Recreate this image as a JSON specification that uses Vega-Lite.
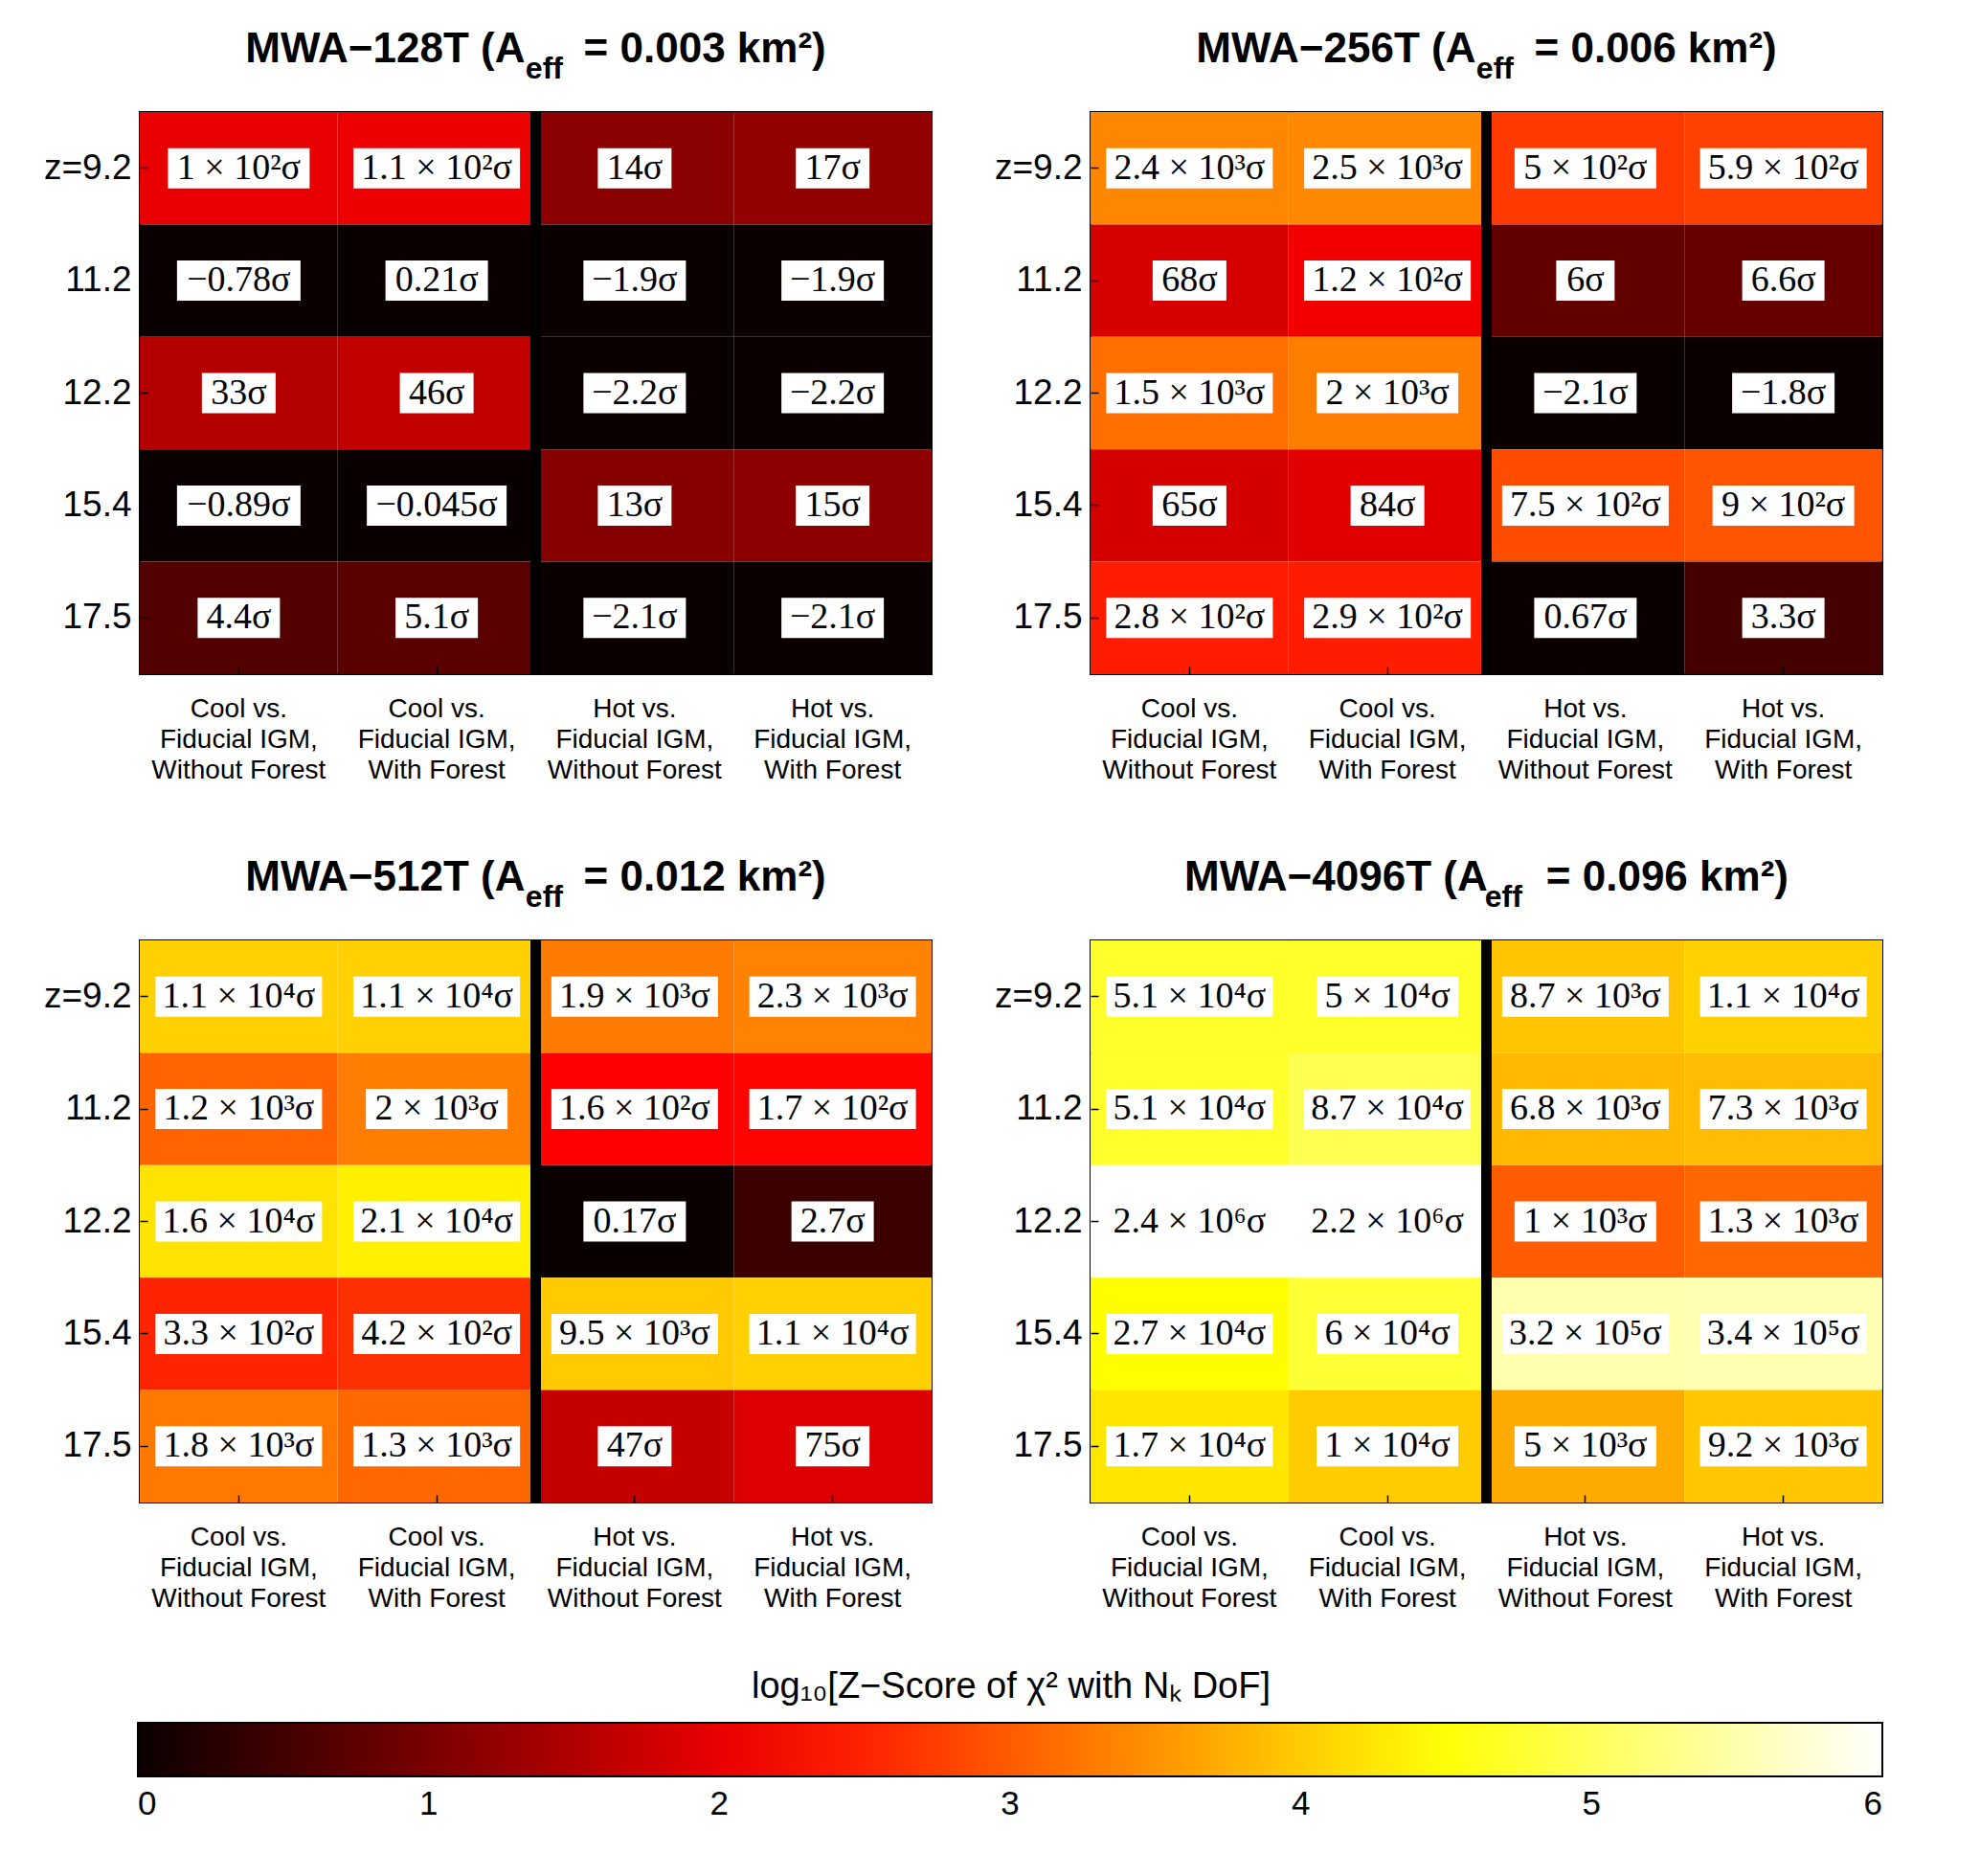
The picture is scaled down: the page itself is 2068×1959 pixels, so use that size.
{
  "$schema": "https://vega.github.io/schema/vega-lite/v6.json",
  "background": "white",
  "padding": {"left": 44, "top": 28, "right": 20, "bottom": 20},
  "datasets": {
    "cells": [
      {"p": "128T", "z": 9.2, "comp": "Cool vs.|Fiducial IGM,|Without Forest", "label": "1 × 10²σ", "logz": 2.0},
      {"p": "128T", "z": 9.2, "comp": "Cool vs.|Fiducial IGM,|With Forest", "label": "1.1 × 10²σ", "logz": 2.04},
      {"p": "128T", "z": 9.2, "comp": "Hot vs.|Fiducial IGM,|Without Forest", "label": "14σ", "logz": 1.15},
      {"p": "128T", "z": 9.2, "comp": "Hot vs.|Fiducial IGM,|With Forest", "label": "17σ", "logz": 1.23},
      {"p": "128T", "z": 11.2, "comp": "Cool vs.|Fiducial IGM,|Without Forest", "label": "−0.78σ", "logz": 0},
      {"p": "128T", "z": 11.2, "comp": "Cool vs.|Fiducial IGM,|With Forest", "label": "0.21σ", "logz": 0},
      {"p": "128T", "z": 11.2, "comp": "Hot vs.|Fiducial IGM,|Without Forest", "label": "−1.9σ", "logz": 0},
      {"p": "128T", "z": 11.2, "comp": "Hot vs.|Fiducial IGM,|With Forest", "label": "−1.9σ", "logz": 0},
      {"p": "128T", "z": 12.2, "comp": "Cool vs.|Fiducial IGM,|Without Forest", "label": "33σ", "logz": 1.52},
      {"p": "128T", "z": 12.2, "comp": "Cool vs.|Fiducial IGM,|With Forest", "label": "46σ", "logz": 1.66},
      {"p": "128T", "z": 12.2, "comp": "Hot vs.|Fiducial IGM,|Without Forest", "label": "−2.2σ", "logz": 0},
      {"p": "128T", "z": 12.2, "comp": "Hot vs.|Fiducial IGM,|With Forest", "label": "−2.2σ", "logz": 0},
      {"p": "128T", "z": 15.4, "comp": "Cool vs.|Fiducial IGM,|Without Forest", "label": "−0.89σ", "logz": 0},
      {"p": "128T", "z": 15.4, "comp": "Cool vs.|Fiducial IGM,|With Forest", "label": "−0.045σ", "logz": 0},
      {"p": "128T", "z": 15.4, "comp": "Hot vs.|Fiducial IGM,|Without Forest", "label": "13σ", "logz": 1.11},
      {"p": "128T", "z": 15.4, "comp": "Hot vs.|Fiducial IGM,|With Forest", "label": "15σ", "logz": 1.18},
      {"p": "128T", "z": 17.5, "comp": "Cool vs.|Fiducial IGM,|Without Forest", "label": "4.4σ", "logz": 0.64},
      {"p": "128T", "z": 17.5, "comp": "Cool vs.|Fiducial IGM,|With Forest", "label": "5.1σ", "logz": 0.71},
      {"p": "128T", "z": 17.5, "comp": "Hot vs.|Fiducial IGM,|Without Forest", "label": "−2.1σ", "logz": 0},
      {"p": "128T", "z": 17.5, "comp": "Hot vs.|Fiducial IGM,|With Forest", "label": "−2.1σ", "logz": 0},

      {"p": "256T", "z": 9.2, "comp": "Cool vs.|Fiducial IGM,|Without Forest", "label": "2.4 × 10³σ", "logz": 3.38},
      {"p": "256T", "z": 9.2, "comp": "Cool vs.|Fiducial IGM,|With Forest", "label": "2.5 × 10³σ", "logz": 3.40},
      {"p": "256T", "z": 9.2, "comp": "Hot vs.|Fiducial IGM,|Without Forest", "label": "5 × 10²σ", "logz": 2.70},
      {"p": "256T", "z": 9.2, "comp": "Hot vs.|Fiducial IGM,|With Forest", "label": "5.9 × 10²σ", "logz": 2.77},
      {"p": "256T", "z": 11.2, "comp": "Cool vs.|Fiducial IGM,|Without Forest", "label": "68σ", "logz": 1.83},
      {"p": "256T", "z": 11.2, "comp": "Cool vs.|Fiducial IGM,|With Forest", "label": "1.2 × 10²σ", "logz": 2.08},
      {"p": "256T", "z": 11.2, "comp": "Hot vs.|Fiducial IGM,|Without Forest", "label": "6σ", "logz": 0.78},
      {"p": "256T", "z": 11.2, "comp": "Hot vs.|Fiducial IGM,|With Forest", "label": "6.6σ", "logz": 0.82},
      {"p": "256T", "z": 12.2, "comp": "Cool vs.|Fiducial IGM,|Without Forest", "label": "1.5 × 10³σ", "logz": 3.18},
      {"p": "256T", "z": 12.2, "comp": "Cool vs.|Fiducial IGM,|With Forest", "label": "2 × 10³σ", "logz": 3.30},
      {"p": "256T", "z": 12.2, "comp": "Hot vs.|Fiducial IGM,|Without Forest", "label": "−2.1σ", "logz": 0},
      {"p": "256T", "z": 12.2, "comp": "Hot vs.|Fiducial IGM,|With Forest", "label": "−1.8σ", "logz": 0},
      {"p": "256T", "z": 15.4, "comp": "Cool vs.|Fiducial IGM,|Without Forest", "label": "65σ", "logz": 1.81},
      {"p": "256T", "z": 15.4, "comp": "Cool vs.|Fiducial IGM,|With Forest", "label": "84σ", "logz": 1.92},
      {"p": "256T", "z": 15.4, "comp": "Hot vs.|Fiducial IGM,|Without Forest", "label": "7.5 × 10²σ", "logz": 2.88},
      {"p": "256T", "z": 15.4, "comp": "Hot vs.|Fiducial IGM,|With Forest", "label": "9 × 10²σ", "logz": 2.95},
      {"p": "256T", "z": 17.5, "comp": "Cool vs.|Fiducial IGM,|Without Forest", "label": "2.8 × 10²σ", "logz": 2.45},
      {"p": "256T", "z": 17.5, "comp": "Cool vs.|Fiducial IGM,|With Forest", "label": "2.9 × 10²σ", "logz": 2.46},
      {"p": "256T", "z": 17.5, "comp": "Hot vs.|Fiducial IGM,|Without Forest", "label": "0.67σ", "logz": 0},
      {"p": "256T", "z": 17.5, "comp": "Hot vs.|Fiducial IGM,|With Forest", "label": "3.3σ", "logz": 0.52},

      {"p": "512T", "z": 9.2, "comp": "Cool vs.|Fiducial IGM,|Without Forest", "label": "1.1 × 10⁴σ", "logz": 4.04},
      {"p": "512T", "z": 9.2, "comp": "Cool vs.|Fiducial IGM,|With Forest", "label": "1.1 × 10⁴σ", "logz": 4.04},
      {"p": "512T", "z": 9.2, "comp": "Hot vs.|Fiducial IGM,|Without Forest", "label": "1.9 × 10³σ", "logz": 3.28},
      {"p": "512T", "z": 9.2, "comp": "Hot vs.|Fiducial IGM,|With Forest", "label": "2.3 × 10³σ", "logz": 3.36},
      {"p": "512T", "z": 11.2, "comp": "Cool vs.|Fiducial IGM,|Without Forest", "label": "1.2 × 10³σ", "logz": 3.08},
      {"p": "512T", "z": 11.2, "comp": "Cool vs.|Fiducial IGM,|With Forest", "label": "2 × 10³σ", "logz": 3.30},
      {"p": "512T", "z": 11.2, "comp": "Hot vs.|Fiducial IGM,|Without Forest", "label": "1.6 × 10²σ", "logz": 2.20},
      {"p": "512T", "z": 11.2, "comp": "Hot vs.|Fiducial IGM,|With Forest", "label": "1.7 × 10²σ", "logz": 2.23},
      {"p": "512T", "z": 12.2, "comp": "Cool vs.|Fiducial IGM,|Without Forest", "label": "1.6 × 10⁴σ", "logz": 4.20},
      {"p": "512T", "z": 12.2, "comp": "Cool vs.|Fiducial IGM,|With Forest", "label": "2.1 × 10⁴σ", "logz": 4.32},
      {"p": "512T", "z": 12.2, "comp": "Hot vs.|Fiducial IGM,|Without Forest", "label": "0.17σ", "logz": 0},
      {"p": "512T", "z": 12.2, "comp": "Hot vs.|Fiducial IGM,|With Forest", "label": "2.7σ", "logz": 0.43},
      {"p": "512T", "z": 15.4, "comp": "Cool vs.|Fiducial IGM,|Without Forest", "label": "3.3 × 10²σ", "logz": 2.52},
      {"p": "512T", "z": 15.4, "comp": "Cool vs.|Fiducial IGM,|With Forest", "label": "4.2 × 10²σ", "logz": 2.62},
      {"p": "512T", "z": 15.4, "comp": "Hot vs.|Fiducial IGM,|Without Forest", "label": "9.5 × 10³σ", "logz": 3.98},
      {"p": "512T", "z": 15.4, "comp": "Hot vs.|Fiducial IGM,|With Forest", "label": "1.1 × 10⁴σ", "logz": 4.04},
      {"p": "512T", "z": 17.5, "comp": "Cool vs.|Fiducial IGM,|Without Forest", "label": "1.8 × 10³σ", "logz": 3.26},
      {"p": "512T", "z": 17.5, "comp": "Cool vs.|Fiducial IGM,|With Forest", "label": "1.3 × 10³σ", "logz": 3.11},
      {"p": "512T", "z": 17.5, "comp": "Hot vs.|Fiducial IGM,|Without Forest", "label": "47σ", "logz": 1.67},
      {"p": "512T", "z": 17.5, "comp": "Hot vs.|Fiducial IGM,|With Forest", "label": "75σ", "logz": 1.88},

      {"p": "4096T", "z": 9.2, "comp": "Cool vs.|Fiducial IGM,|Without Forest", "label": "5.1 × 10⁴σ", "logz": 4.71},
      {"p": "4096T", "z": 9.2, "comp": "Cool vs.|Fiducial IGM,|With Forest", "label": "5 × 10⁴σ", "logz": 4.70},
      {"p": "4096T", "z": 9.2, "comp": "Hot vs.|Fiducial IGM,|Without Forest", "label": "8.7 × 10³σ", "logz": 3.94},
      {"p": "4096T", "z": 9.2, "comp": "Hot vs.|Fiducial IGM,|With Forest", "label": "1.1 × 10⁴σ", "logz": 4.04},
      {"p": "4096T", "z": 11.2, "comp": "Cool vs.|Fiducial IGM,|Without Forest", "label": "5.1 × 10⁴σ", "logz": 4.71},
      {"p": "4096T", "z": 11.2, "comp": "Cool vs.|Fiducial IGM,|With Forest", "label": "8.7 × 10⁴σ", "logz": 4.94},
      {"p": "4096T", "z": 11.2, "comp": "Hot vs.|Fiducial IGM,|Without Forest", "label": "6.8 × 10³σ", "logz": 3.83},
      {"p": "4096T", "z": 11.2, "comp": "Hot vs.|Fiducial IGM,|With Forest", "label": "7.3 × 10³σ", "logz": 3.86},
      {"p": "4096T", "z": 12.2, "comp": "Cool vs.|Fiducial IGM,|Without Forest", "label": "2.4 × 10⁶σ", "logz": 6.38},
      {"p": "4096T", "z": 12.2, "comp": "Cool vs.|Fiducial IGM,|With Forest", "label": "2.2 × 10⁶σ", "logz": 6.34},
      {"p": "4096T", "z": 12.2, "comp": "Hot vs.|Fiducial IGM,|Without Forest", "label": "1 × 10³σ", "logz": 3.0},
      {"p": "4096T", "z": 12.2, "comp": "Hot vs.|Fiducial IGM,|With Forest", "label": "1.3 × 10³σ", "logz": 3.11},
      {"p": "4096T", "z": 15.4, "comp": "Cool vs.|Fiducial IGM,|Without Forest", "label": "2.7 × 10⁴σ", "logz": 4.43},
      {"p": "4096T", "z": 15.4, "comp": "Cool vs.|Fiducial IGM,|With Forest", "label": "6 × 10⁴σ", "logz": 4.78},
      {"p": "4096T", "z": 15.4, "comp": "Hot vs.|Fiducial IGM,|Without Forest", "label": "3.2 × 10⁵σ", "logz": 5.51},
      {"p": "4096T", "z": 15.4, "comp": "Hot vs.|Fiducial IGM,|With Forest", "label": "3.4 × 10⁵σ", "logz": 5.53},
      {"p": "4096T", "z": 17.5, "comp": "Cool vs.|Fiducial IGM,|Without Forest", "label": "1.7 × 10⁴σ", "logz": 4.23},
      {"p": "4096T", "z": 17.5, "comp": "Cool vs.|Fiducial IGM,|With Forest", "label": "1 × 10⁴σ", "logz": 4.0},
      {"p": "4096T", "z": 17.5, "comp": "Hot vs.|Fiducial IGM,|Without Forest", "label": "5 × 10³σ", "logz": 3.70},
      {"p": "4096T", "z": 17.5, "comp": "Hot vs.|Fiducial IGM,|With Forest", "label": "9.2 × 10³σ", "logz": 3.96}
    ]
  },
  "data": {"name": "cells"},
  "spacing": 58,
  "vconcat": [
    {
      "spacing": 62,
      "hconcat": [
        {
          "width": 827, "height": 587,
          "title": {"text": "MWA−128T (A\u00a0\u00a0\u00a0\u00a0\u00a0= 0.003 km²)", "subtitle": "\u200b\u00a0\u00a0eff"},
          "transform": [{"filter": "datum.p == '128T'"}, {"calculate": "length(datum.label)", "as": "nchar"}],
          "resolve": {"axis": {"x": "independent", "y": "independent"}},
          "layer": [
            {"mark": {"type": "rect"},
             "encoding": {
               "x": {"field": "comp", "type": "nominal", "scale": {"domain": ["Cool vs.|Fiducial IGM,|Without Forest", "Cool vs.|Fiducial IGM,|With Forest", "Hot vs.|Fiducial IGM,|Without Forest", "Hot vs.|Fiducial IGM,|With Forest"], "paddingInner": 0, "paddingOuter": 0},
                     "axis": {"orient": "bottom", "title": null, "labelExpr": "split(datum.label, '|')", "labelFont": "Liberation Sans", "labelFontSize": 28, "labelLineHeight": 32, "labelColor": "black", "labelAngle": 0, "labelPadding": 30, "labelLimit": 0, "ticks": true, "tickSize": -8, "tickColor": "black", "tickWidth": 1.5, "domain": false, "grid": false, "minExtent": 130, "maxExtent": 130}},
               "y": {"field": "z", "type": "ordinal", "scale": {"domain": [9.2, 11.2, 12.2, 15.4, 17.5], "paddingInner": 0, "paddingOuter": 0},
                     "axis": {"orient": "left", "title": null, "labelExpr": "datum.value == 9.2 ? 'z=9.2' : datum.label", "labelFont": "Liberation Sans", "labelFontSize": 37, "labelColor": "black", "labelPadding": 17, "ticks": true, "tickSize": -8, "tickColor": "black", "tickWidth": 1.5, "domain": false, "grid": false, "minExtent": 100, "maxExtent": 100}},
               "color": {"field": "logz", "type": "quantitative", "scale": {"domain": [0, 2.2, 4.45, 6], "range": ["#0b0000", "#ff0000", "#ffff00", "#ffffff"], "clamp": true, "interpolate": "rgb"},
                         "legend": {"orient": "none", "legendX": -2, "legendY": 1626, "direction": "horizontal", "gradientLength": 1822, "gradientThickness": 56, "title": "log₁₀[Z−Score of χ² with Nₖ DoF]", "titleFont": "Liberation Sans", "titleFontSize": 38, "titleFontWeight": "normal", "titleColor": "black", "titleAnchor": "middle", "titlePadding": 18, "titleLimit": 0, "labelFont": "Liberation Sans", "labelFontSize": 35, "labelColor": "black", "labelOffset": 12, "labelAlign": "center", "values": [0, 1, 2, 3, 4, 5, 6], "format": "d", "gradientStrokeColor": "black", "gradientStrokeWidth": 2}}
             }},
            {"mark": {"type": "rule", "color": "black", "strokeWidth": 11},
             "encoding": {"x": {"datum": "Hot vs.|Fiducial IGM,|Without Forest", "type": "nominal", "bandPosition": 0, "axis": null}}},
            {"mark": {"type": "point", "filled": true, "fill": "white", "opacity": 1, "size": 4, "strokeWidth": 0},
             "encoding": {
               "x": {"field": "comp", "type": "nominal", "axis": null},
               "y": {"field": "z", "type": "ordinal", "axis": null},
               "shape": {"field": "nchar", "type": "ordinal", "scale": {"domain": [2, 3, 4, 5, 6, 7, 8, 10], "range": ["M-30.5,-21H30.5V21H-30.5Z", "M-38.5,-21H38.5V21H-38.5Z", "M-43,-21H43V21H-43Z", "M-53.5,-21H53.5V21H-53.5Z", "M-64.5,-21H64.5V21H-64.5Z", "M-73,-21H73V21H-73Z", "M-74,-21H74V21H-74Z", "M-87,-21H87V21H-87Z"]}, "legend": null}
             }},
            {"mark": {"type": "text", "font": "Liberation Serif", "fontSize": 38, "color": "black", "baseline": "middle", "align": "center"},
             "encoding": {
               "x": {"field": "comp", "type": "nominal", "axis": {"orient": "top", "title": null, "labels": false, "ticks": true, "tickSize": -8, "tickColor": "black", "tickWidth": 1.5, "domain": false, "grid": false, "minExtent": 0, "maxExtent": 0}},
               "y": {"field": "z", "type": "ordinal", "axis": {"orient": "right", "title": null, "labels": false, "ticks": true, "tickSize": -8, "tickColor": "black", "tickWidth": 1.5, "domain": false, "grid": false, "minExtent": 0, "maxExtent": 0}},
               "text": {"field": "label"}
             }}
          ]
        },
        {
          "width": 827, "height": 587,
          "title": {"text": "MWA−256T (A\u00a0\u00a0\u00a0\u00a0\u00a0= 0.006 km²)", "subtitle": "\u200b\u00a0\u00a0eff"},
          "transform": [{"filter": "datum.p == '256T'"}, {"calculate": "length(datum.label)", "as": "nchar"}],
          "resolve": {"axis": {"x": "independent", "y": "independent"}},
          "layer": [
            {"mark": {"type": "rect"},
             "encoding": {
               "x": {"field": "comp", "type": "nominal", "scale": {"domain": ["Cool vs.|Fiducial IGM,|Without Forest", "Cool vs.|Fiducial IGM,|With Forest", "Hot vs.|Fiducial IGM,|Without Forest", "Hot vs.|Fiducial IGM,|With Forest"], "paddingInner": 0, "paddingOuter": 0},
                     "axis": {"orient": "bottom", "title": null, "labelExpr": "split(datum.label, '|')", "labelFont": "Liberation Sans", "labelFontSize": 28, "labelLineHeight": 32, "labelColor": "black", "labelAngle": 0, "labelPadding": 30, "labelLimit": 0, "ticks": true, "tickSize": -8, "tickColor": "black", "tickWidth": 1.5, "domain": false, "grid": false, "minExtent": 130, "maxExtent": 130}},
               "y": {"field": "z", "type": "ordinal", "scale": {"domain": [9.2, 11.2, 12.2, 15.4, 17.5], "paddingInner": 0, "paddingOuter": 0},
                     "axis": {"orient": "left", "title": null, "labelExpr": "datum.value == 9.2 ? 'z=9.2' : datum.label", "labelFont": "Liberation Sans", "labelFontSize": 37, "labelColor": "black", "labelPadding": 17, "ticks": true, "tickSize": -8, "tickColor": "black", "tickWidth": 1.5, "domain": false, "grid": false, "minExtent": 100, "maxExtent": 100}},
               "color": {"field": "logz", "type": "quantitative", "scale": {"domain": [0, 2.2, 4.45, 6], "range": ["#0b0000", "#ff0000", "#ffff00", "#ffffff"], "clamp": true, "interpolate": "rgb"},
                         "legend": {"orient": "none", "legendX": -2, "legendY": 1626, "direction": "horizontal", "gradientLength": 1822, "gradientThickness": 56, "title": "log₁₀[Z−Score of χ² with Nₖ DoF]", "titleFont": "Liberation Sans", "titleFontSize": 38, "titleFontWeight": "normal", "titleColor": "black", "titleAnchor": "middle", "titlePadding": 18, "titleLimit": 0, "labelFont": "Liberation Sans", "labelFontSize": 35, "labelColor": "black", "labelOffset": 12, "labelAlign": "center", "values": [0, 1, 2, 3, 4, 5, 6], "format": "d", "gradientStrokeColor": "black", "gradientStrokeWidth": 2}}
             }},
            {"mark": {"type": "rule", "color": "black", "strokeWidth": 11},
             "encoding": {"x": {"datum": "Hot vs.|Fiducial IGM,|Without Forest", "type": "nominal", "bandPosition": 0, "axis": null}}},
            {"mark": {"type": "point", "filled": true, "fill": "white", "opacity": 1, "size": 4, "strokeWidth": 0},
             "encoding": {
               "x": {"field": "comp", "type": "nominal", "axis": null},
               "y": {"field": "z", "type": "ordinal", "axis": null},
               "shape": {"field": "nchar", "type": "ordinal", "scale": {"domain": [2, 3, 4, 5, 6, 7, 8, 10], "range": ["M-30.5,-21H30.5V21H-30.5Z", "M-38.5,-21H38.5V21H-38.5Z", "M-43,-21H43V21H-43Z", "M-53.5,-21H53.5V21H-53.5Z", "M-64.5,-21H64.5V21H-64.5Z", "M-73,-21H73V21H-73Z", "M-74,-21H74V21H-74Z", "M-87,-21H87V21H-87Z"]}, "legend": null}
             }},
            {"mark": {"type": "text", "font": "Liberation Serif", "fontSize": 38, "color": "black", "baseline": "middle", "align": "center"},
             "encoding": {
               "x": {"field": "comp", "type": "nominal", "axis": {"orient": "top", "title": null, "labels": false, "ticks": true, "tickSize": -8, "tickColor": "black", "tickWidth": 1.5, "domain": false, "grid": false, "minExtent": 0, "maxExtent": 0}},
               "y": {"field": "z", "type": "ordinal", "axis": {"orient": "right", "title": null, "labels": false, "ticks": true, "tickSize": -8, "tickColor": "black", "tickWidth": 1.5, "domain": false, "grid": false, "minExtent": 0, "maxExtent": 0}},
               "text": {"field": "label"}
             }}
          ]
        }
      ]
    },
    {
      "spacing": 62,
      "hconcat": [
        {
          "width": 827, "height": 587,
          "title": {"text": "MWA−512T (A\u00a0\u00a0\u00a0\u00a0\u00a0= 0.012 km²)", "subtitle": "\u200b\u00a0\u00a0eff"},
          "transform": [{"filter": "datum.p == '512T'"}, {"calculate": "length(datum.label)", "as": "nchar"}],
          "resolve": {"axis": {"x": "independent", "y": "independent"}},
          "layer": [
            {"mark": {"type": "rect"},
             "encoding": {
               "x": {"field": "comp", "type": "nominal", "scale": {"domain": ["Cool vs.|Fiducial IGM,|Without Forest", "Cool vs.|Fiducial IGM,|With Forest", "Hot vs.|Fiducial IGM,|Without Forest", "Hot vs.|Fiducial IGM,|With Forest"], "paddingInner": 0, "paddingOuter": 0},
                     "axis": {"orient": "bottom", "title": null, "labelExpr": "split(datum.label, '|')", "labelFont": "Liberation Sans", "labelFontSize": 28, "labelLineHeight": 32, "labelColor": "black", "labelAngle": 0, "labelPadding": 30, "labelLimit": 0, "ticks": true, "tickSize": -8, "tickColor": "black", "tickWidth": 1.5, "domain": false, "grid": false, "minExtent": 130, "maxExtent": 130}},
               "y": {"field": "z", "type": "ordinal", "scale": {"domain": [9.2, 11.2, 12.2, 15.4, 17.5], "paddingInner": 0, "paddingOuter": 0},
                     "axis": {"orient": "left", "title": null, "labelExpr": "datum.value == 9.2 ? 'z=9.2' : datum.label", "labelFont": "Liberation Sans", "labelFontSize": 37, "labelColor": "black", "labelPadding": 17, "ticks": true, "tickSize": -8, "tickColor": "black", "tickWidth": 1.5, "domain": false, "grid": false, "minExtent": 100, "maxExtent": 100}},
               "color": {"field": "logz", "type": "quantitative", "scale": {"domain": [0, 2.2, 4.45, 6], "range": ["#0b0000", "#ff0000", "#ffff00", "#ffffff"], "clamp": true, "interpolate": "rgb"},
                         "legend": {"orient": "none", "legendX": -2, "legendY": 1626, "direction": "horizontal", "gradientLength": 1822, "gradientThickness": 56, "title": "log₁₀[Z−Score of χ² with Nₖ DoF]", "titleFont": "Liberation Sans", "titleFontSize": 38, "titleFontWeight": "normal", "titleColor": "black", "titleAnchor": "middle", "titlePadding": 18, "titleLimit": 0, "labelFont": "Liberation Sans", "labelFontSize": 35, "labelColor": "black", "labelOffset": 12, "labelAlign": "center", "values": [0, 1, 2, 3, 4, 5, 6], "format": "d", "gradientStrokeColor": "black", "gradientStrokeWidth": 2}}
             }},
            {"mark": {"type": "rule", "color": "black", "strokeWidth": 11},
             "encoding": {"x": {"datum": "Hot vs.|Fiducial IGM,|Without Forest", "type": "nominal", "bandPosition": 0, "axis": null}}},
            {"mark": {"type": "point", "filled": true, "fill": "white", "opacity": 1, "size": 4, "strokeWidth": 0},
             "encoding": {
               "x": {"field": "comp", "type": "nominal", "axis": null},
               "y": {"field": "z", "type": "ordinal", "axis": null},
               "shape": {"field": "nchar", "type": "ordinal", "scale": {"domain": [2, 3, 4, 5, 6, 7, 8, 10], "range": ["M-30.5,-21H30.5V21H-30.5Z", "M-38.5,-21H38.5V21H-38.5Z", "M-43,-21H43V21H-43Z", "M-53.5,-21H53.5V21H-53.5Z", "M-64.5,-21H64.5V21H-64.5Z", "M-73,-21H73V21H-73Z", "M-74,-21H74V21H-74Z", "M-87,-21H87V21H-87Z"]}, "legend": null}
             }},
            {"mark": {"type": "text", "font": "Liberation Serif", "fontSize": 38, "color": "black", "baseline": "middle", "align": "center"},
             "encoding": {
               "x": {"field": "comp", "type": "nominal", "axis": {"orient": "top", "title": null, "labels": false, "ticks": true, "tickSize": -8, "tickColor": "black", "tickWidth": 1.5, "domain": false, "grid": false, "minExtent": 0, "maxExtent": 0}},
               "y": {"field": "z", "type": "ordinal", "axis": {"orient": "right", "title": null, "labels": false, "ticks": true, "tickSize": -8, "tickColor": "black", "tickWidth": 1.5, "domain": false, "grid": false, "minExtent": 0, "maxExtent": 0}},
               "text": {"field": "label"}
             }}
          ]
        },
        {
          "width": 827, "height": 587,
          "title": {"text": "MWA−4096T (A\u00a0\u00a0\u00a0\u00a0\u00a0= 0.096 km²)", "subtitle": "\u200b\u00a0\u00a0\u00a0\u00a0eff"},
          "transform": [{"filter": "datum.p == '4096T'"}, {"calculate": "length(datum.label)", "as": "nchar"}],
          "resolve": {"axis": {"x": "independent", "y": "independent"}},
          "layer": [
            {"mark": {"type": "rect"},
             "encoding": {
               "x": {"field": "comp", "type": "nominal", "scale": {"domain": ["Cool vs.|Fiducial IGM,|Without Forest", "Cool vs.|Fiducial IGM,|With Forest", "Hot vs.|Fiducial IGM,|Without Forest", "Hot vs.|Fiducial IGM,|With Forest"], "paddingInner": 0, "paddingOuter": 0},
                     "axis": {"orient": "bottom", "title": null, "labelExpr": "split(datum.label, '|')", "labelFont": "Liberation Sans", "labelFontSize": 28, "labelLineHeight": 32, "labelColor": "black", "labelAngle": 0, "labelPadding": 30, "labelLimit": 0, "ticks": true, "tickSize": -8, "tickColor": "black", "tickWidth": 1.5, "domain": false, "grid": false, "minExtent": 130, "maxExtent": 130}},
               "y": {"field": "z", "type": "ordinal", "scale": {"domain": [9.2, 11.2, 12.2, 15.4, 17.5], "paddingInner": 0, "paddingOuter": 0},
                     "axis": {"orient": "left", "title": null, "labelExpr": "datum.value == 9.2 ? 'z=9.2' : datum.label", "labelFont": "Liberation Sans", "labelFontSize": 37, "labelColor": "black", "labelPadding": 17, "ticks": true, "tickSize": -8, "tickColor": "black", "tickWidth": 1.5, "domain": false, "grid": false, "minExtent": 100, "maxExtent": 100}},
               "color": {"field": "logz", "type": "quantitative", "scale": {"domain": [0, 2.2, 4.45, 6], "range": ["#0b0000", "#ff0000", "#ffff00", "#ffffff"], "clamp": true, "interpolate": "rgb"},
                         "legend": {"orient": "none", "legendX": -2, "legendY": 1626, "direction": "horizontal", "gradientLength": 1822, "gradientThickness": 56, "title": "log₁₀[Z−Score of χ² with Nₖ DoF]", "titleFont": "Liberation Sans", "titleFontSize": 38, "titleFontWeight": "normal", "titleColor": "black", "titleAnchor": "middle", "titlePadding": 18, "titleLimit": 0, "labelFont": "Liberation Sans", "labelFontSize": 35, "labelColor": "black", "labelOffset": 12, "labelAlign": "center", "values": [0, 1, 2, 3, 4, 5, 6], "format": "d", "gradientStrokeColor": "black", "gradientStrokeWidth": 2}}
             }},
            {"mark": {"type": "rule", "color": "black", "strokeWidth": 11},
             "encoding": {"x": {"datum": "Hot vs.|Fiducial IGM,|Without Forest", "type": "nominal", "bandPosition": 0, "axis": null}}},
            {"mark": {"type": "point", "filled": true, "fill": "white", "opacity": 1, "size": 4, "strokeWidth": 0},
             "encoding": {
               "x": {"field": "comp", "type": "nominal", "axis": null},
               "y": {"field": "z", "type": "ordinal", "axis": null},
               "shape": {"field": "nchar", "type": "ordinal", "scale": {"domain": [2, 3, 4, 5, 6, 7, 8, 10], "range": ["M-30.5,-21H30.5V21H-30.5Z", "M-38.5,-21H38.5V21H-38.5Z", "M-43,-21H43V21H-43Z", "M-53.5,-21H53.5V21H-53.5Z", "M-64.5,-21H64.5V21H-64.5Z", "M-73,-21H73V21H-73Z", "M-74,-21H74V21H-74Z", "M-87,-21H87V21H-87Z"]}, "legend": null}
             }},
            {"mark": {"type": "text", "font": "Liberation Serif", "fontSize": 38, "color": "black", "baseline": "middle", "align": "center"},
             "encoding": {
               "x": {"field": "comp", "type": "nominal", "axis": {"orient": "top", "title": null, "labels": false, "ticks": true, "tickSize": -8, "tickColor": "black", "tickWidth": 1.5, "domain": false, "grid": false, "minExtent": 0, "maxExtent": 0}},
               "y": {"field": "z", "type": "ordinal", "axis": {"orient": "right", "title": null, "labels": false, "ticks": true, "tickSize": -8, "tickColor": "black", "tickWidth": 1.5, "domain": false, "grid": false, "minExtent": 0, "maxExtent": 0}},
               "text": {"field": "label"}
             }}
          ]
        }
      ]
    }
  ],
  "resolve": {"scale": {"color": "shared", "shape": "shared"}},
  "config": {
    "view": {"stroke": "black", "strokeWidth": 2},
    "title": {"font": "Liberation Sans", "fontSize": 44, "fontWeight": "bold", "color": "black", "anchor": "middle", "frame": "group", "offset": 24, "subtitleFont": "Liberation Sans", "subtitleFontSize": 32, "subtitleFontWeight": "bold", "subtitleColor": "black", "subtitlePadding": -17}
  }
}
